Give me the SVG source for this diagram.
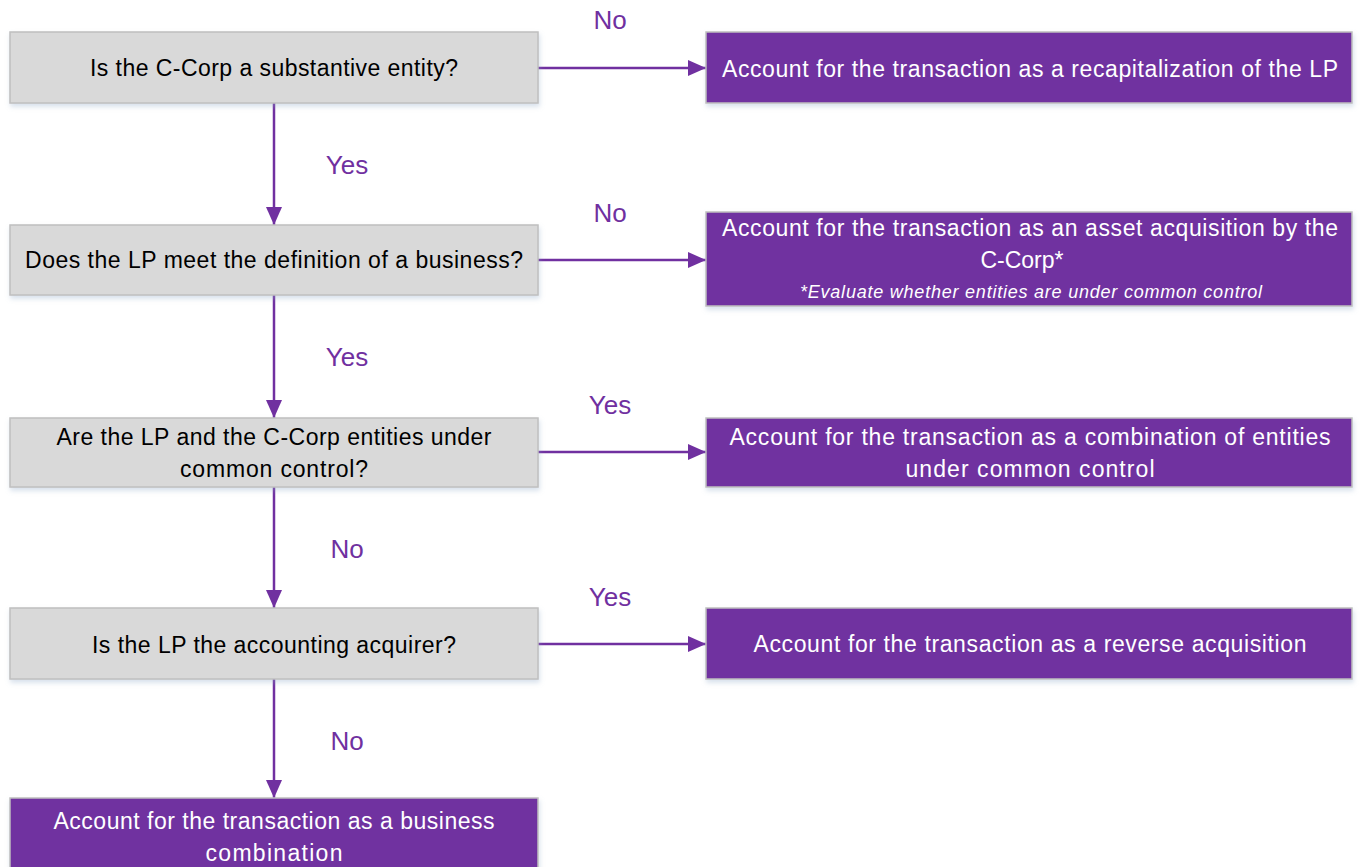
<svg xmlns="http://www.w3.org/2000/svg" width="1361" height="867" viewBox="0 0 1361 867">
  <defs>
    <filter id="shadow" x="-5%" y="-20%" width="110%" height="150%">
      <feDropShadow dx="1" dy="3" stdDeviation="2.5" flood-color="#8fa8c8" flood-opacity="0.35"/>
    </filter>
    <marker id="arrow" markerWidth="18" markerHeight="16" refX="18" refY="8" orient="auto" markerUnits="userSpaceOnUse">
      <path d="M0,0 L18,8 L0,16 Z" fill="#7030a0"/>
    </marker>
  </defs>
  <style>
    .q { fill: #d9d9d9; stroke: #bfbfbf; stroke-width: 1.5; filter: url(#shadow); }
    .r { fill: #7030a0; stroke: #bfbfbf; stroke-width: 1.5; filter: url(#shadow); }
    .qt { font-family: "Liberation Sans", Arial, sans-serif; font-size: 23px; fill: #000; text-anchor: middle; }
    .rt { font-family: "Liberation Sans", Arial, sans-serif; font-size: 23px; fill: #fff; text-anchor: middle; }
    .note { font-family: "Liberation Sans", Arial, sans-serif; font-size: 18px; font-style: italic; fill: #fff; text-anchor: middle; }
    .lbl { font-family: "Liberation Sans", Arial, sans-serif; font-size: 26px; fill: #7030a0; text-anchor: middle; }
    .edge { stroke: #7030a0; stroke-width: 2.5; fill: none; marker-end: url(#arrow); }
  </style>

  <g id="connectors">
    <line class="edge" x1="538" y1="68" x2="706" y2="68"/>
    <line class="edge" x1="538" y1="260" x2="706" y2="260"/>
    <line class="edge" x1="538" y1="452" x2="706" y2="452"/>
    <line class="edge" x1="538" y1="644" x2="706" y2="644"/>
    <line class="edge" x1="274" y1="103" x2="274" y2="225"/>
    <line class="edge" x1="274" y1="295" x2="274" y2="418"/>
    <line class="edge" x1="274" y1="487" x2="274" y2="608"/>
    <line class="edge" x1="274" y1="679" x2="274" y2="798"/>
    <text class="lbl" x="610" y="29">No</text>
    <text class="lbl" x="347" y="174">Yes</text>
    <text class="lbl" x="610" y="222">No</text>
    <text class="lbl" x="347" y="366">Yes</text>
    <text class="lbl" x="610" y="414">Yes</text>
    <text class="lbl" x="347" y="558">No</text>
    <text class="lbl" x="610" y="606">Yes</text>
    <text class="lbl" x="347" y="750">No</text>
  </g>

  <g id="q1">
    <rect class="q" x="10" y="32" width="528" height="71"/>
    <text class="qt" x="274" y="76" textLength="368">Is the C-Corp a substantive entity?</text>
  </g>
  <g id="q2">
    <rect class="q" x="10" y="225" width="528" height="70"/>
    <text class="qt" x="274" y="268" textLength="498">Does the LP meet the definition of a business?</text>
  </g>
  <g id="q3">
    <rect class="q" x="10" y="418" width="528" height="69"/>
    <text class="qt" x="274" y="445" textLength="435">Are the LP and the C-Corp entities under</text>
    <text class="qt" x="274" y="477" textLength="188">common control?</text>
  </g>
  <g id="q4">
    <rect class="q" x="10" y="608" width="528" height="71"/>
    <text class="qt" x="274" y="653" textLength="364">Is the LP the accounting acquirer?</text>
  </g>
  <g id="business-combination">
    <rect class="r" x="10" y="798" width="528" height="80"/>
    <text class="rt" x="274" y="829" textLength="441">Account for the transaction as a business</text>
    <text class="rt" x="274" y="861" textLength="137">combination</text>
  </g>

  <g id="recapitalization">
    <rect class="r" x="706" y="32" width="646" height="71"/>
    <text class="rt" x="1030" y="77" textLength="616">Account for the transaction as a recapitalization of the LP</text>
  </g>
  <g id="asset-acquisition">
    <rect class="r" x="706" y="212" width="646" height="94"/>
    <text class="rt" x="1030" y="236" textLength="616">Account for the transaction as an asset acquisition by the</text>
    <text class="rt" x="1022" y="268">C-Corp*</text>
    <text class="note" x="1031" y="298" textLength="462">*Evaluate whether entities are under common control</text>
  </g>
  <g id="common-control">
    <rect class="r" x="706" y="418" width="646" height="69"/>
    <text class="rt" x="1030" y="445" textLength="601">Account for the transaction as a combination of entities</text>
    <text class="rt" x="1030" y="477" textLength="249">under common control</text>
  </g>
  <g id="reverse-acquisition">
    <rect class="r" x="706" y="608" width="646" height="71"/>
    <text class="rt" x="1030" y="652" textLength="553">Account for the transaction as a reverse acquisition</text>
  </g>
</svg>
